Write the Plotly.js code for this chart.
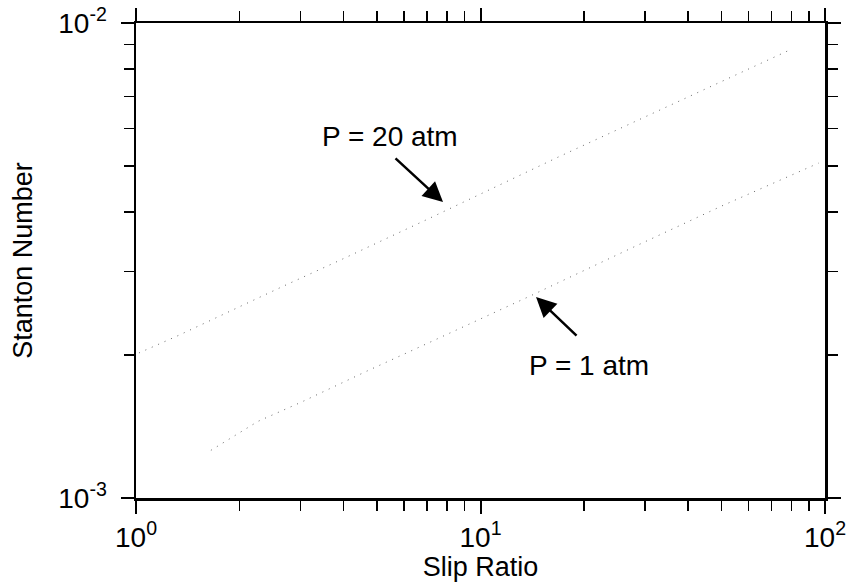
<!DOCTYPE html>
<html>
<head>
<meta charset="utf-8">
<script src="https://cdn.plot.ly/plotly-3.0.1.min.js"></script>
<style>html,body{margin:0;padding:0;background:#fff;}#chart{width:851px;height:582px;}</style>
</head>
<body>
<div id="chart"></div>
<script>
// Slip ratio vs Stanton number
const slip20 = [1.02, 1.33, 2.67, 3.96, 6.95, 16.8, 32.3, 50.2, 79.7];
const stanton20 = [2.02e-3, 2.20e-3, 2.79e-3, 3.18e-3, 3.85e-3, 5.22e-3, 6.50e-3, 7.55e-3, 8.8e-3];
const slip1 = [1.65, 2.26, 3.01, 4.68, 6.76, 13.9, 27.7, 50.2, 95.8];
const stanton1 = [1.26e-3, 1.45e-3, 1.59e-3, 1.85e-3, 2.09e-3, 2.66e-3, 3.37e-3, 4.12e-3, 5.07e-3];
const xMajorVals = [1, 10, 100];
const xMajorText = ['10<sup>0</sup>', '10<sup>1</sup>', '10<sup>2</sup>'];
const xMinorVals = [2, 3, 4, 5, 6, 7, 8, 9, 20, 30, 40, 50, 60, 70, 80, 90];
const yMajorVals = [0.001, 0.01];
const yMajorText = ['10<sup>-3</sup>', '10<sup>-2</sup>'];
const yMinorVals = [0.002, 0.003, 0.004, 0.005, 0.006, 0.007, 0.008, 0.009];
const labels = ['P = 20 atm', 'P = 1 atm'];

const font = 'Liberation Sans, Arial, Helvetica, sans-serif';
const lineStyle = {color: '#666', width: 1, dash: '1px,6px'};

const traces = [
  {x: slip20, y: stanton20, mode: 'lines', line: lineStyle, name: labels[0], hoverinfo: 'skip'},
  {x: slip1, y: stanton1, mode: 'lines', line: lineStyle, name: labels[1], hoverinfo: 'skip'}
];

const axisCommon = {
  type: 'log',
  showgrid: false,
  zeroline: false,
  showline: true,
  linecolor: '#000',
  linewidth: 2.5,
  mirror: 'ticks',
  ticks: 'outside',
  ticklen: 13,
  tickwidth: 2,
  tickcolor: '#000',
  tickmode: 'array',
  tickfont: {family: font, size: 28, color: '#000'}
};

const layout = {
  width: 851,
  height: 582,
  margin: {l: 136, r: 26, t: 23, b: 84},
  paper_bgcolor: '#fff',
  plot_bgcolor: '#fff',
  showlegend: false,
  xaxis: Object.assign({}, axisCommon, {
    range: [0, 2],
    automargin: false,
    tickvals: xMajorVals,
    ticktext: xMajorText,
    minor: {tickmode: 'array', tickvals: xMinorVals, ticks: 'outside', ticklen: 10, tickwidth: 1.5, tickcolor: '#000', showgrid: false},
    title: {text: 'Slip Ratio', font: {family: font, size: 27, color: '#000'}}
  }),
  yaxis: Object.assign({}, axisCommon, {
    range: [-3, -2],
    automargin: 'left',
    ticklabelstandoff: 8,
    tickvals: yMajorVals,
    ticktext: yMajorText,
    minor: {tickmode: 'array', tickvals: yMinorVals, ticks: 'outside', ticklen: 10, tickwidth: 1.5, tickcolor: '#000', showgrid: false},
    title: {text: 'Stanton Number', font: {family: font, size: 27, color: '#000'}, standoff: 18}
  }),
  annotations: [
    {xref: 'paper', yref: 'paper', x: 0.3687, y: 0.762, xanchor: 'center', yanchor: 'middle', text: labels[0], showarrow: false,
     font: {family: font, size: 28, color: '#000'}},
    {xref: 'paper', yref: 'paper', x: 0.4456, y: 0.623, text: '', showarrow: true,
     ax: -49, ay: -45, arrowhead: 2, arrowsize: 1.6, arrowwidth: 2.5, arrowcolor: '#000', standoff: 0},
    {xref: 'paper', yref: 'paper', x: 0.6575, y: 0.278, xanchor: 'center', yanchor: 'middle', text: labels[1], showarrow: false,
     font: {family: font, size: 28, color: '#000'}},
    {xref: 'paper', yref: 'paper', x: 0.5806, y: 0.423, text: '', showarrow: true,
     ax: 42, ay: 40, arrowhead: 2, arrowsize: 1.6, arrowwidth: 2.5, arrowcolor: '#000', standoff: 0}
  ]
};

Plotly.newPlot('chart', traces, layout, {displayModeBar: false, staticPlot: true});
</script>
</body>
</html>
